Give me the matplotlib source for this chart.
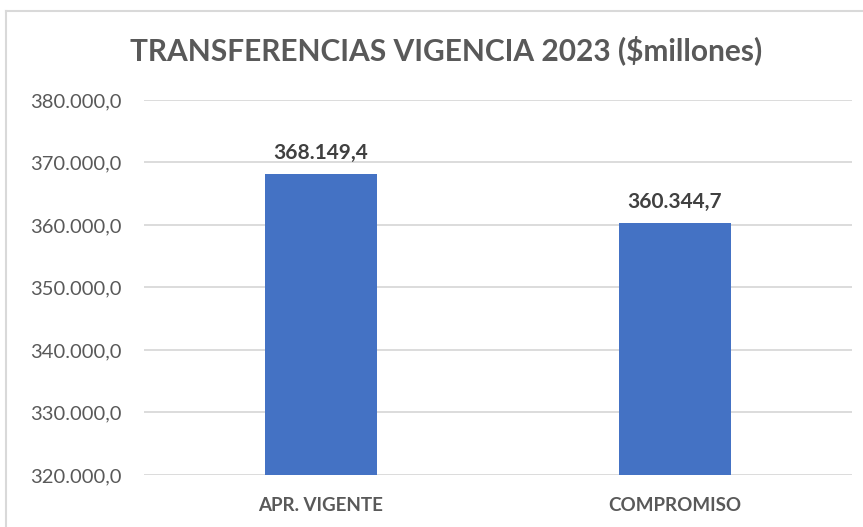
import matplotlib.pyplot as plt
from matplotlib.lines import Line2D

plt.rcParams['font.family'] = ['Lato', 'DejaVu Sans']

categories = ['APR. VIGENTE', 'COMPROMISO']
values = [368149.4, 360344.7]
yticks = [320000, 330000, 340000, 350000, 360000, 370000, 380000]


def fmt(v, dec=1):
    # formato latino: punto de miles, coma decimal
    s = '{:,.{d}f}'.format(v, d=dec)
    return s.replace(',', 'X').replace('.', ',').replace('X', '.')


gray = '#595959'
fig = plt.figure(figsize=(8.63, 5.27), dpi=100)
ax = fig.add_axes([0.1669, 0.0987, 0.8204, 0.7116])

x = range(len(categories))
bars = ax.bar(x, values, width=0.316, color='#4472C4', zorder=3)

ax.set_ylim(320000, 380000)
ax.set_xlim(-0.5, 1.5)
ax.set_yticks(yticks)
ax.set_yticklabels([fmt(v) for v in yticks], color=gray, fontsize=14.5)
ax.set_xticks(list(x))
ax.set_xticklabels(categories, color=gray, fontsize=13.5, fontweight='bold')
ax.tick_params(axis='y', length=0, pad=16)
ax.tick_params(axis='x', length=0, pad=16)
ax.grid(axis='y', color='#D9D9D9', linewidth=1.3, zorder=0)
for s in ax.spines.values():
    s.set_visible(False)

for b, v in zip(bars, values):
    ax.text(b.get_x() + b.get_width() / 2, v + 1800, fmt(v), ha='center', va='bottom',
            fontsize=15, fontweight='bold', color='#404040')

fig.text(0.517, 0.905, 'TRANSFERENCIAS VIGENCIA 2023 ($millones)', ha='center', va='center',
         fontsize=21.5, fontweight='bold', color=gray)

# borde del grafico (recortado a la derecha y abajo)
bx, by = 6 / 863, 1 - 11 / 527
fig.add_artist(Line2D([bx, bx], [0, by], transform=fig.transFigure, color='#D9D9D9', linewidth=1.5))
fig.add_artist(Line2D([bx, 1], [by, by], transform=fig.transFigure, color='#D9D9D9', linewidth=1.5))

plt.savefig('out.png')
